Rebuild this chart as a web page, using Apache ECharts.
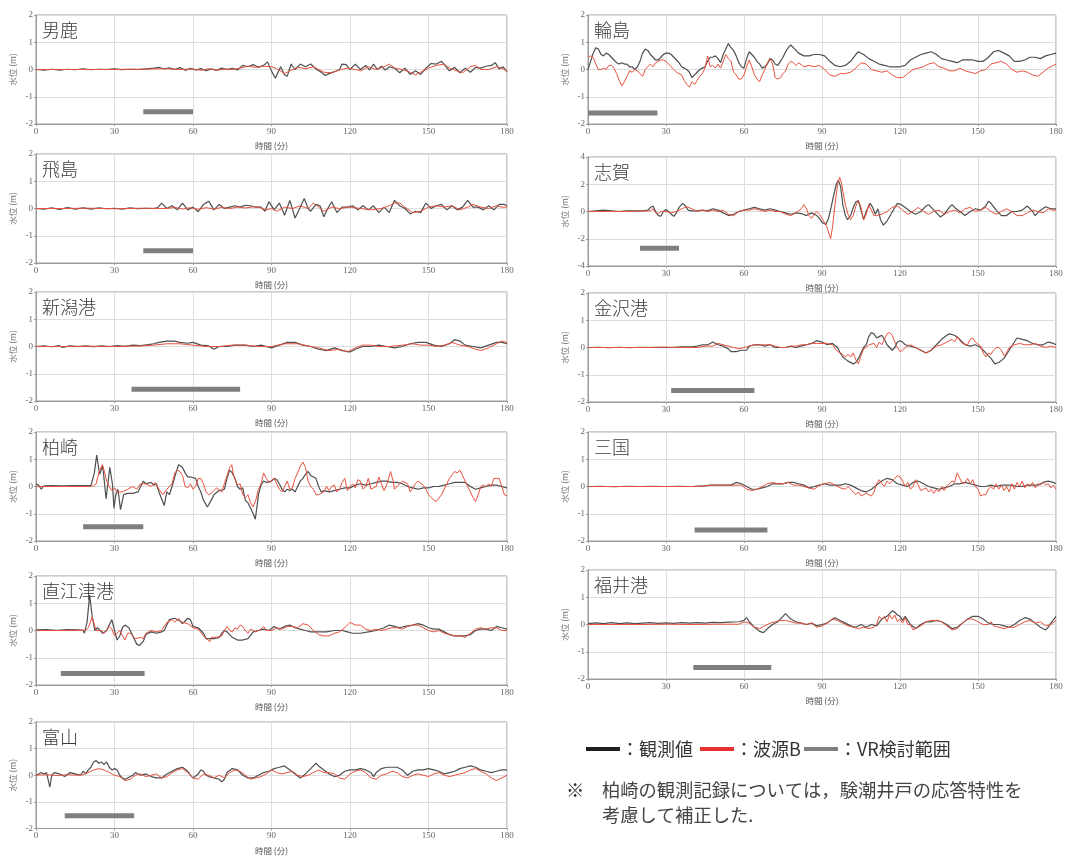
<!DOCTYPE html>
<html><head><meta charset="utf-8">
<script src="https://cdn.jsdelivr.net/npm/echarts@6/dist/echarts.min.js"></script>
<style>html,body{margin:0;padding:0;background:#fff}#c{width:1067px;height:856px}</style>
</head><body><div id="c"></div>
<script>
// ---------- DATA (time in minutes, water level in m; flat lists t,v,t,v,...) ----------
const stations = ['男鹿','飛島','新潟港','柏崎','直江津港','富山','輪島','志賀','金沢港','三国','福井港'];
const xTicks = [0,30,60,90,120,150,180];
const yTicks = [-2,-1,0,1,2];
const yTicksShika = [-4,-2,0,2,4];
// VR検討範囲 (start min, end min, level m)
const vrStart = [41,41,36.5,18,9.5,11,0,20,32,41,40.5];
const vrEnd   = [60,60,78,41,41.5,37.5,26.7,35,64,69,70.5];
const vrLevel = [-1.55,-1.55,-1.57,-1.48,-1.58,-1.52,-1.6,-2.7,-1.58,-1.6,-1.58];

const ogaObs = [0,0,3,-0.02,6,0.01,9,-0.02,12,0.01,15,-0.01,18,0.02,21,-0.01,24,0.01,27,0,30,0.02,33,-0.01,36,0.01,39,0,42,0.02,45,0.05,47,0.08,49,0.02,51,0.06,53,0,55,0.07,57,-0.03,59,0.04,61,-0.02,63,0.03,65,-0.04,67,0.02,69,-0.03,71,0.05,73,0,75,0.04,77,-0.02,79,0.15,81,0.1,83,0.18,85,0.08,87,0.15,88.5,0.28,89.5,0.05,90.5,-0.15,91.5,-0.32,92.5,-0.1,93.5,0.1,95,-0.2,96,-0.25,97.5,0.2,99,0,101,0.2,103,0.1,105,0.2,107,0.02,109,-0.1,110.5,-0.22,112,-0.15,114,-0.08,116,0,117,0.2,118.5,0.18,120,0,122,0.2,124,0,126,0.15,127.5,-0.02,129,0.2,130.5,0,132,0.12,133.5,-0.02,135,0.1,137,0.05,139,-0.12,141,0.05,143,-0.18,145,-0.05,147,-0.18,149,0.05,151,0.22,153,0.2,155,0.3,156.5,0.12,158,-0.05,160,0.08,162,-0.12,164,0.05,166,-0.1,168,0.08,170,0.05,172,0.12,174,0.15,175.5,0.25,177,0.02,178.5,0.1,180,-0.08];
const ogaSim = [0,0,20,0,40,0.01,50,0.03,55,0,60,0.02,63,-0.03,66,0.03,69,-0.03,72,0.02,75,0,78,0.05,81,0.12,84,0.08,87,0.12,90,0.1,92,0.03,95,-0.15,97,-0.05,100,0.08,103,0.03,106,0.1,108,0,110,-0.1,113,-0.12,116,-0.02,119,0.05,122,0,124,-0.05,127,0.1,130,0,133,0.1,135,0.2,137,0.05,140,0,143,-0.1,145,-0.2,147,-0.1,150,0.05,153,0.15,156,0.2,158,0.05,161,-0.05,163,-0.12,166,0.1,168,0.15,170,0,173,0,176,0.1,178,0.05,180,-0.05];

const tobiObs = [0,0,3,-0.02,6,0.02,9,-0.03,12,0.03,15,-0.02,18,0.02,21,-0.02,24,0.02,27,-0.01,30,0.01,33,-0.02,36,0.02,39,-0.01,42,0.01,45,0,46.5,0.03,48,0.2,50,0,52,0.1,54,-0.05,56,0.2,58,-0.05,60,0.05,62,-0.12,64,0.15,66,0.27,68,-0.05,70,0.15,72,0,74,0.05,76,0.1,78,0.05,80,0.12,82,0.1,84,0.05,86,0.05,87.5,-0.1,89,0.25,91,-0.05,93,0.2,95,-0.25,97,0.3,99,-0.35,101,0.05,102.5,0.37,104,0,105,-0.1,107,0.15,108.5,0.1,110,-0.3,111.5,0,113,0.25,115,-0.15,117,0.05,119,0.05,121,0.1,123,-0.05,125,0.1,127,-0.05,129,0.1,131,-0.15,133,0.05,135,-0.15,137,0.3,139,0.1,141,0,143,-0.2,145,-0.1,147,-0.15,149,0.2,151,0,153,0.1,155,0.15,157,-0.05,159,0.1,161,-0.05,163,0.05,165,0.3,167,0.05,169,0.05,171,-0.05,173,0.1,175,-0.05,177,0.15,179,0.15,180,0.1];
const tobiSim = [0,0,10,0,20,0.01,30,-0.01,40,0.01,50,0,53,0.04,56,-0.02,59,0.03,62,-0.03,65,0.03,68,-0.02,71,0.04,74,0,77,0.05,80,0.02,83,0.06,85,0.05,88,-0.05,90,0,92,-0.1,95,0.05,98,0,101,0.1,104,0,106,0.2,108,0.05,110,-0.1,113,0.05,116,0,120,0.05,124,0,128,-0.05,132,0,135,0.1,137,0.2,139,0.2,141,0.05,144,-0.15,147,-0.1,150,0.05,153,0.1,156,0.05,159,0.1,162,-0.05,165,0.05,167,0.15,170,0.05,173,0,176,0.1,178,0.05,180,0.05];

const niiObs = [0,0,3,0.02,6,-0.01,9,0.03,10,-0.03,13,0.02,16,0,19,0.02,22,-0.01,25,0.02,28,0,31,0.03,34,0.01,37,0.05,40,0.03,43,0.07,45,0.1,47,0.15,50,0.2,53,0.2,55,0.15,58,0.12,60,0.15,63,0.05,66,0.02,68,-0.1,70,0,73,0,76,0.05,80,0.05,83,0,86,0.05,90,-0.05,93,0.05,96,0.15,99,0.15,102,0.05,105,0,108,-0.1,111,-0.15,114,-0.05,117,-0.15,120,-0.2,122,-0.1,125,0,128,0,131,0.05,134,0,137,-0.05,140,0,143,0.1,146,0.15,149,0.15,152,0.05,155,0,158,0.1,160,0.25,162,0.2,164,0.05,167,0,170,-0.05,173,0.05,176,0.15,178,0.15,180,0.1];
const niiSim = [0,0,10,0,20,0.01,30,0,40,0.02,45,0.05,50,0.1,55,0.1,60,0.05,65,0,70,0,75,0.05,80,0.05,85,0,90,0,95,0.1,100,0.1,105,0,108,-0.05,112,-0.15,116,-0.1,119,-0.2,122,-0.05,125,0.05,128,0.05,131,0,135,0,140,0.05,144,0.1,147,0.05,150,0.05,153,0,156,0.05,159,0.15,162,0.05,165,0,168,-0.1,170,-0.15,173,-0.05,176,0.1,178,0.2,180,0.15];

const kashiObs = [0,0.1,1,0.05,2,-0.1,3,0.02,6,0.03,10,0.02,14,0.03,18,0.03,21,0.03,22.3,0.5,23.2,1.15,24.3,0.45,25.5,0.75,26.8,-0.45,28.2,0.7,29.2,0.1,29.8,-0.8,30.5,-0.3,31.3,-0.1,32.3,-0.85,33.5,-0.3,35,-0.25,37,-0.25,39,-0.2,40,0,41,0.2,42,0.1,44,0.15,45,0.05,46,0.1,47,-0.2,48,-0.45,49,-0.7,50,-0.2,51,-0.3,52,0,53.5,0.5,54.5,0.8,56,0.7,57,0.5,58,0.35,59,0.35,61,0.3,62,0,63,-0.2,64,-0.5,65.5,-0.75,67,-0.5,68,-0.3,70,-0.15,72,-0.1,73,0.3,74,0.6,75,0.5,76,0.3,77,0,78,-0.1,79,-0.05,80,-0.5,81,-0.6,82,-0.8,83,-1.0,83.8,-1.2,84.5,-0.7,85,-0.3,86,0.05,87,0.2,88,0.15,90,0.2,91,0.3,92,0.25,93,0.1,94,-0.1,95,-0.2,96,-0.1,97,-0.15,98,-0.1,99,-0.2,100,0,101,0.2,102,0.3,103,0.45,104,0.55,105,0.4,106,0.35,107,0.3,108,0,109,-0.2,110,-0.15,112,-0.2,114,-0.15,116,-0.1,118,-0.05,120,-0.05,122,0.05,124,0.1,126,0.05,128,0.1,130,0.15,132,0.2,134,0.2,136,0.15,138,0.15,140,0.1,142,0,144,-0.05,146,-0.1,148,-0.05,150,-0.05,152,0,154,0,156,0.05,158,0.1,160,0.15,162,0.15,164,0.15,166,0,168,-0.1,170,-0.05,172,0,174,0.05,176,0.05,178,0,180,-0.05];
const kashiSim = [0,0,10,0,20,0,22,0.02,23,0.1,24,0.5,25.3,0.8,26,0.6,27,0.2,28,0,29,-0.15,30,-0.05,31,-0.2,33,-0.2,35,-0.1,37,0,38.5,-0.1,40,0.1,42,0.1,44,0,45.5,0.15,47,-0.1,48.5,-0.3,50,-0.1,51,0,52,0.1,53,0.5,54,0.6,55,0.55,56,0.4,57,0,58,-0.05,59,0.1,60,-0.1,61,0,62,0.3,63,0.3,64,0.1,65,-0.2,66,-0.3,67,-0.25,68,-0.15,69,-0.05,71,-0.2,72,0.1,73,0.4,74,0.7,74.8,0.8,75.5,0.4,76,0.3,77,0.05,78,0.1,79,-0.3,80,-0.4,81,-0.3,82,-0.6,83,-0.75,84,-0.5,85,-0.1,86,0.1,87,0.5,88,0.3,89,0.15,90,0.2,91,0.3,92,0.1,93,-0.1,94,-0.2,95,0,96,0.2,97,-0.1,98,-0.05,99,0.3,100,0.5,101,0.75,102,0.9,103,0.7,104,0.2,105,0,106,-0.1,107,-0.3,108,-0.3,110,-0.2,111,0,112,-0.15,113,0,114,0.05,115,-0.2,116,-0.1,117,0.15,118,0.3,119,-0.15,120,0,121,0.1,122,-0.05,123,0.25,124,0.2,125,-0.1,126,0,127,0.3,128,-0.1,130,0,131,0.35,132,0.1,133,-0.15,134,0.05,135.5,0.55,136.5,0.2,137,-0.1,139,0.1,140,0.2,142,0.1,143,-0.2,145,0.1,146,0.2,148,0.05,149,-0.1,150,-0.3,152,-0.5,153,-0.55,155,-0.3,157,0.1,158,0.3,160,0.55,161,0.5,162,0.6,163,0.4,164,0.2,165,0,166,-0.2,167,-0.4,168,-0.55,169,-0.3,170,0,171,0.05,172,0,173,0.1,174,0,175,0.3,176,0.3,177,0.3,178,0,179,-0.3,180,-0.35];

const naoeObs = [0,0.02,4,0.03,8,0.01,12,0.03,16,0.02,18,0.01,18.5,-0.1,19.5,0.3,20.5,1.3,21.5,0.5,22.5,0,23.5,0.1,24.5,0,25.5,-0.1,27,0,28,0.2,29,0.4,30,0,31,-0.35,32,-0.2,33,0.1,34,0.2,35.5,0.1,37,-0.2,38.5,-0.5,39.5,-0.55,41,-0.4,42,-0.15,44,-0.05,46,-0.1,48,-0.05,49,0,51,0.4,53,0.45,55,0.35,56,0.25,57,0.35,58,0.45,59,0.4,60,0.15,62,0.1,64,-0.1,65,-0.3,66,-0.3,68,-0.3,70,-0.25,71,-0.1,72,0,73,-0.05,75,-0.25,77,-0.35,79,-0.35,81,-0.3,83,-0.05,85,0,87,0.05,89,0,91,0.15,93,0.05,95,0.15,97,0.2,99,0.1,101,0.05,103,0,105,-0.05,108,-0.05,111,-0.05,114,0,117,0,119,-0.05,121,-0.1,124,-0.1,127,-0.05,130,0,133,0.1,135,0.2,137,0.15,139,0.1,141,0.15,144,0.2,146,0.25,148,0.2,150,0.1,152,0.05,154,0.05,156,-0.05,158,-0.15,160,-0.2,162,-0.2,164,-0.2,166,-0.15,168,0,170,0.05,172,0.05,174,0,176,0.15,178,0.1,180,0.05];
const naoeSim = [0,0,10,0,19,0.01,20,0.1,21.5,0.5,22.5,0.15,23,0,25,0,26,-0.1,27,0,28,0.15,29,0.05,30,-0.2,31,-0.1,32,0,34,-0.35,35,-0.1,36,-0.1,37,-0.2,38,-0.3,40,-0.25,41,-0.3,42,-0.1,44,0,46,-0.05,48,0,50,0.3,52,0.4,53,0.3,54.5,0.45,55,0.35,56,0.3,58,0.25,60,0.1,62,0.05,64,-0.2,65,-0.3,66.5,-0.4,67,-0.25,69,-0.25,71,-0.2,72,0,73,0.15,74,0,75,-0.05,76,0.1,77,0.05,78,0.2,79,0.15,80,0,81,-0.1,82,0.05,84,-0.05,86,0.05,87,0.15,88,0,90,0,92,0.1,94,0.05,96,0.15,98,0.15,100,0.1,102,0.25,104,0.2,106,0,108,-0.15,110,-0.2,112,-0.2,114,-0.1,116,-0.05,118,0.1,120,0.3,122,0.2,124,0.2,126,0.05,128,0,130,0.05,132,0,134,0.05,136,0.1,138,0.1,140,0.05,142,0.15,144,0.2,146,0.2,148,0.1,150,0,152,-0.05,154,0,156,-0.1,158,-0.15,160,-0.2,162,-0.2,164,-0.25,166,-0.1,168,0.05,170,0.1,172,0.05,174,0.1,176,0.1,178,0,180,0];

const toyaObs = [0,0,1,0.05,2,0.1,3,0.05,4,0.1,5.3,-0.45,6,0,7,0.1,9,0.05,10,0,11,-0.05,13,0.1,15,0.05,17,0,18,0.15,19,0.05,20,0.2,21,0.3,22,0.5,23,0.55,24,0.45,25,0.5,26,0.4,27,0.5,28,0.3,29,0.2,30,0.25,31,0.2,32,0,33,-0.1,34,-0.15,35,-0.1,36,-0.05,37,0,38,0.1,40,0,42,0.05,44,-0.05,46,-0.1,48,-0.1,50,0.05,52,0.15,54,0.25,56,0.3,58,0.15,59,0,60,-0.1,62,0.05,63,0.2,64,0.15,65,0,66,-0.05,68,-0.1,70,-0.15,71,-0.25,72,-0.15,73,0.1,75,0.25,77,0.2,79,0,81,-0.1,83,-0.1,85,0,87,0.1,89,0.15,91,0.25,93,0.3,95,0.35,97,0.2,99,0.05,101,-0.1,103,0.05,105,0.25,106,0.35,107,0.45,108,0.35,110,0.2,112,0.05,114,-0.05,116,0,118,0.15,120,0.2,122,0.2,124,0.25,126,0.2,128,0.1,129,-0.05,130,0.1,132,0.25,134,0.3,136,0.3,138,0.3,140,0.2,142,0,144,0.15,146,0.2,148,0.2,150,0.25,152,0.2,154,0.15,156,0.05,158,0.1,160,0.15,162,0.25,164,0.3,166,0.35,168,0.3,170,0.2,172,0.15,174,0.1,176,0.15,178,0.2,180,0.2];
const toyaSim = [0,0,4,0.02,8,-0.01,12,0.02,16,0,18,0.02,20,0.1,22,0.2,24,0.25,26,0.2,28,0.1,30,0,32,-0.05,34,-0.2,36,-0.15,38,0,40,0.05,42,-0.05,44,0,46,0.05,48,-0.1,50,-0.05,52,0.1,54,0.2,56,0.25,58,0.1,60,-0.1,62,-0.15,64,0.05,66,0,68,-0.1,70,0,72,-0.1,74,0.1,76,0.2,78,0.15,80,0,82,-0.15,84,-0.1,86,-0.05,88,0.05,90,0.2,92,0.1,94,0.05,96,0.1,98,0.15,100,0,102,-0.05,104,0,106,0.1,108,0.2,110,0.1,112,0.1,114,0.05,116,-0.1,118,-0.15,120,0.05,122,0.15,124,0.2,126,0.1,128,-0.1,130,-0.15,132,0,134,0.05,136,0.15,138,0.1,140,-0.05,142,-0.1,144,0,146,0.05,148,0,150,-0.05,152,0.05,154,0.1,156,0,158,-0.05,160,0,162,0.05,164,0.1,166,0.2,168,0.25,170,0.15,172,0.05,174,-0.1,176,-0.2,178,-0.1,180,0];

const wajiObs = [0,0,1,0.3,2,0.6,3,0.8,4,0.75,5,0.55,6,0.5,7,0.6,8,0.55,9,0.45,10,0.35,11,0.25,12,0.2,13,0.25,14,0.2,15,0.2,16,0.1,17,0.1,18,0,19,0.1,20,0.3,21,0.6,22,0.75,23,0.7,24,0.55,25,0.45,26,0.35,27,0.35,28,0.45,29,0.55,30,0.6,31,0.6,32,0.55,33,0.45,34,0.35,35,0.25,36,0.1,37,0.05,38,0,39,-0.1,40,-0.3,41,-0.2,42,-0.1,43,0,44,0.05,45,0.1,46,0.3,47,0.45,48,0.45,49,0.5,50,0.4,51,0.25,52,0.55,53,0.75,54,0.95,55,0.8,56,0.7,57,0.5,58,0.25,59,0.1,60,0.05,61,0.4,62,0.65,63,0.55,64,0.45,65,0.3,66,0.2,67,0.05,68,0.1,69,0.2,70,0.4,71,0.35,72,0.2,73,0.15,74,0.3,75,0.45,76,0.65,77,0.8,78,0.9,79,0.8,80,0.7,81,0.6,83,0.5,85,0.5,87,0.55,89,0.55,91,0.5,93,0.3,95,0.15,97,0.1,99,0.15,101,0.3,103,0.55,104,0.65,106,0.55,108,0.4,110,0.3,112,0.2,114,0.15,116,0.1,118,0.1,120,0.1,122,0.15,124,0.35,126,0.45,128,0.55,130,0.6,132,0.65,134,0.55,136,0.4,138,0.35,140,0.3,142,0.25,144,0.35,146,0.35,148,0.35,150,0.3,152,0.3,154,0.45,156,0.65,158,0.7,160,0.6,162,0.5,164,0.3,166,0.3,168,0.35,170,0.45,172,0.45,174,0.4,176,0.5,178,0.55,180,0.6];
const wajiSim = [0,0.45,1,0.5,2,0.45,3,0.2,4,0,5,0,6,0.05,7,0,8,0.15,9,0.15,10,0.05,11,-0.15,12,-0.4,13,-0.6,14,-0.45,15,-0.25,16,-0.05,17,-0.1,18,0,19,-0.05,20,-0.15,21,-0.25,22,0,23,0.1,24,0.2,25,0.1,26,0.25,27,0.3,28,0.35,29,0.35,30,0.3,31,0.2,32,0.1,33,0,34,-0.1,35,-0.15,36,-0.2,37,-0.4,38,-0.55,39,-0.65,40,-0.45,41,-0.55,42,-0.4,43,-0.25,44,-0.15,45,0.05,46,0.5,47,0.1,48,0.15,49,0.05,50,0.2,51,0.05,52,0.3,53,0.55,54,0.4,55,0.3,56,-0.1,57,-0.2,58,-0.35,59,-0.35,60,-0.2,61,0.1,62,0.35,63,0.1,64,-0.2,65,-0.35,66,-0.45,67,-0.2,68,0,69,0.25,70,0.4,71,0.2,72,-0.3,73,-0.35,74,-0.3,75,-0.15,76,-0.05,77,0.2,78,0.3,79,0.25,80,0.15,81,0.25,83,0.1,85,0.15,87,0.1,89,0.15,91,0,93,-0.2,95,-0.25,97,-0.15,99,-0.15,101,-0.1,103,0.05,105,0.25,107,0.2,109,0,111,-0.05,113,-0.1,115,-0.05,117,-0.2,119,-0.3,121,-0.3,123,-0.15,125,0,127,0.05,129,0.1,131,0.2,133,0.25,135,0.1,137,0.05,139,-0.05,141,-0.05,143,0.05,145,-0.05,147,-0.1,149,-0.15,151,-0.05,153,0,155,0.2,157,0.25,159,0.3,161,0.2,163,0,165,-0.1,167,-0.05,169,-0.1,171,-0.2,173,-0.25,175,-0.1,177,0.05,179,0.15,180,0.2];

const shikaObs = [0,0,3,0.05,6,0.1,9,0.05,12,0,15,0.05,18,0.05,21,0.05,23,0.1,24,0.3,25,0.4,26,0,27,-0.3,28,-0.35,29,0,30,0.15,31,0,32,-0.2,33,-0.35,34,-0.1,35,0.3,36.4,0.6,37.5,0.4,38.5,0.1,40,0.05,42,0.05,44,0.1,46,0.05,48,0.2,50,0.1,52,-0.1,54,-0.3,56,-0.2,58,0,60,0.1,62,0.2,64,0.3,66,0.2,68,0.1,70,0.2,72,0.1,74,0,76,-0.1,78,-0.2,80,-0.1,82,-0.15,84,-0.3,86,-0.1,88,-0.3,89,-0.5,90,-0.8,91.5,-0.95,92.5,-0.5,93.5,0.3,94.5,1.2,95.5,2.0,96.3,2.3,97.2,1.8,98,0.5,99,-0.3,99.8,-0.6,101,-0.3,102,0.3,103,0.7,104,0.8,105,0.1,106,-0.6,107,0,108.5,0.6,109.5,0.3,110.5,-0.2,111.5,0.2,112.5,-0.6,113.6,-1.0,115,-0.7,116.5,-0.2,118,0.3,119,0.6,120.5,0.5,122,0.3,124,0,126,-0.2,128,0,130,0.4,131,0.5,133,0.1,135.5,-0.4,137,-0.2,139,0.3,140,0.5,141,0.3,143,0,145,-0.3,147,0,149,0.2,151,0.1,153,0.4,154,0.75,155,0.6,157,0.1,159,-0.3,161,-0.3,163,0,165,0,167,0.1,169,0.4,171,0,172,-0.3,174,0.1,176,0.35,178,0.2,180,0.2];
const shikaSim = [0,0,10,0,20,0.02,24,0.05,25,0.2,26,-0.1,27,-0.15,28,0,30,0,32,-0.1,34,0,36,0.2,38,0.35,40,0.2,42,0,44,0.1,46,0,48,0.1,50,0,52,0.1,54,-0.2,56,-0.3,58,0,60,0.1,62,0.1,64,0.2,66,0.1,68,0,70,0.1,72,0,74,0,76,-0.2,78,-0.3,80,-0.1,82,0.2,83,0.5,84,0.2,85,-0.3,86,-0.5,87,-0.2,88,0,89,-0.2,90,-0.5,91,-0.8,92,-1.2,93.3,-2.0,94,-1.2,95,0.5,96,2.0,96.8,2.5,97.5,2.1,98,1.5,99,0.5,100,-0.2,101,-0.6,102,-0.3,103,0.4,104,0.8,105,0.3,106,-0.6,107,-0.2,108,0.5,109,0.1,110,-0.3,111,-0.3,113,-0.2,115,0,117,0.3,119,0.4,121,0.1,123,-0.2,125,0,127,0.3,129,0,131,-0.2,133,0,135,0.1,137,-0.2,139,0,141,0.1,143,-0.1,145,0.2,147,0.3,149,0,151,0.1,153,0.3,155,0,157,-0.2,159,0,161,0.2,163,0,165,-0.3,167,-0.3,169,-0.1,171,0.1,173,0,175,-0.1,177,0.2,179,0.1,180,0.1];

const kanaObs = [0,0,4,0.01,8,-0.01,12,0.01,16,-0.01,20,0.01,24,0,28,0.01,32,0,36,0.02,40,0.02,42,0.05,44,0.1,46,0.1,47,0.15,48,0.2,50,0.1,52,0.05,54,-0.05,55,-0.15,57,-0.15,59,-0.1,61,-0.1,62,0.05,64,0.1,66,0.1,68,0.05,70,0.1,72,0,74,0,76,0,78,0.05,80,0,82,0.05,84,0.1,86,0.15,88,0.25,90,0.2,92,0.1,94,0.15,96,0,97,-0.2,98,-0.35,100,-0.5,102,-0.6,103,-0.55,104,-0.4,105,-0.2,106,0,107,0.1,108,0.4,109,0.55,110,0.5,111,0.35,112,0.4,113,0.45,114,0.3,115,0.1,116,0,117,-0.1,118,0,119,0.2,120,0.25,121,0.2,122,0.1,124,0.05,126,0,128,-0.1,130,-0.2,132,-0.1,134,0.1,136,0.3,138,0.45,139,0.5,141,0.45,143,0.3,145,0.1,147,0.05,149,0.1,151,0,153,-0.2,155,-0.4,156.5,-0.6,158,-0.55,160,-0.4,162,-0.1,164,0.2,165,0.35,167,0.3,169,0.25,171,0.15,173,0.1,175,0.1,177,0.2,179,0.15,180,0.1];
const kanaSim = [0,0,10,0,20,0,30,0.01,40,0,42,0,45,0.05,48,0.05,50,0.15,52,0.1,54,0.05,56,0,58,-0.05,60,0,62,0.05,64,0.1,66,0.1,68,0.1,70,0.1,72,0.05,74,0,76,0,78,0.05,80,0.05,82,0.1,84,0.1,86,0.15,88,0.15,90,0.15,92,0.15,94,0.1,96,-0.15,98,-0.25,99,-0.35,100,-0.25,101,-0.35,102,-0.2,103,-0.45,104,-0.6,105,-0.3,106,-0.05,107,0,108,0.1,110,0.15,111,0,112,0.2,113,0.1,114,0.3,115,0.5,116,0.55,117,0.45,118,0.2,119,0,120,-0.15,121,-0.1,122,0,124,0.1,126,0,128,-0.1,130,-0.2,132,-0.1,134,0.05,136,0.1,138,0.2,140,0.3,141,0.2,142,0.4,143,0.25,144,0.15,146,0.1,147,0.3,148,0.35,149,0.2,151,0.05,152,-0.2,153,-0.35,154,-0.2,155,-0.25,156,-0.1,157,0,158,0,159,-0.1,160,-0.3,161,-0.2,162,0,164,0.1,166,0.15,168,0.1,170,0.1,172,0.15,174,0.05,176,0,178,0.05,180,0];

const mikuObs = [0,0,5,0.01,10,-0.01,15,0.01,20,0,25,0.01,30,0,35,0.01,40,0,45,0.02,47,0.05,50,0.05,52,0.05,55,0.05,57,0.15,59,0.1,61,0,63,-0.1,65,-0.1,67,-0.05,69,0,71,0.1,73,0.1,75,0.1,77,0.15,79,0.15,81,0.1,83,0.05,85,-0.05,87,0,89,0.05,91,0.1,93,0.05,95,0.05,97,0.05,99,0.1,101,0.05,103,-0.05,105,-0.15,107,-0.2,109,-0.1,111,0.05,113,0.2,115,0.3,117,0.25,119,0.1,121,0.05,123,0,125,0.15,127,0.2,129,0.1,131,0,133,-0.05,135,-0.1,137,-0.05,139,0,141,0.1,143,0.1,145,0.15,147,0.1,149,0.05,151,0,153,0,155,0.05,157,0,159,0.05,161,0.05,163,0.05,165,0,167,0,169,0.05,171,0.05,173,0.05,175,0.15,177,0.2,179,0.15,180,0.1];
const mikuSim = [0,0,10,0,20,0,30,0,40,0,45,0.02,48,0.05,52,0.05,55,0.05,57,0.05,59,0.05,61,-0.1,63,-0.15,65,-0.1,67,0,69,0.1,71,0.15,73,0.1,75,0.1,77,0.15,79,0.05,81,0.05,83,0,85,-0.05,87,-0.1,89,0.05,91,0.1,93,0.15,95,0.05,97,-0.05,99,-0.1,100,0,101,-0.1,103,-0.3,104,-0.2,105,-0.35,106,-0.3,107,-0.25,109,-0.35,110,-0.2,111,0.1,112,0.25,113,0.1,114,0,115,0.2,116,0.1,117,0.2,118,0.3,119,0.4,120,0.35,121,0.2,122,0,123,0.15,124,-0.1,125,0,126,0.25,127,0.05,128,-0.15,129,-0.1,130,-0.05,131,-0.2,132,-0.1,133,-0.25,134,-0.1,135,-0.2,136,0,137,-0.15,138,0,139,0.1,140,0.2,141,0.15,142,0.5,143,0.3,144,0.1,145,0.15,146,0.3,147,0.1,148,0.25,149,0,150,-0.1,151,-0.35,152,-0.3,153,-0.3,154,-0.1,155,0,156,-0.1,157,0.1,158,-0.1,159,0.05,160,-0.15,161,0,162,-0.2,163,0.1,164,-0.1,165,0.15,166,0,167,0.2,168,-0.05,169,0.1,170,0,171,0.15,172,-0.05,173,0.1,174,0.05,175,0.15,176,0.05,177,0.1,178,-0.05,179,0.05,180,-0.1];

const fukuObs = [0,0.03,3,0.06,6,0.03,9,0.07,12,0.03,15,0.06,18,0.03,21,0.05,24,0.07,27,0.04,30,0.06,33,0.04,36,0.07,39,0.05,42,0.07,45,0.05,48,0.08,51,0.07,54,0.09,58,0.1,60,0.15,61,0.25,62,0.1,64,-0.1,66,-0.25,67.5,-0.3,69,-0.15,71,0,73,0.1,75,0.3,76,0.4,77,0.3,78,0.2,80,0.1,82,0.05,84,0,86,0.05,88,-0.05,90,0,92,0.05,94,0.2,95,0.25,97,0.15,99,0.05,101,-0.05,103,-0.1,105,0,107,-0.1,109,0,111,-0.05,113,0.2,115,0.3,117,0.5,118,0.45,119,0.35,120,0.3,121,0.15,122,0.3,124,0,126,-0.15,128,0,130,0.1,132,0.1,134,0.15,136,0.1,138,0,140,-0.15,142,-0.1,144,0.05,146,0.2,148,0.3,150,0.3,152,0.2,154,0.05,156,0,158,0,160,-0.05,162,-0.1,164,0,166,0.15,168,0.25,170,0.2,172,0.05,174,-0.1,176,-0.2,177,-0.1,178,0.05,180,0.3];
const fukuSim = [0,0,10,0,20,0,30,0.01,40,0,50,0.01,58,0.01,60,0.1,62,0.05,64,-0.1,66,-0.15,68,-0.05,70,0.05,72,0.1,74,0.15,76,0.15,78,0.1,80,0.05,82,0.05,84,0,86,0.05,88,-0.1,90,-0.05,92,0.05,94,0.2,96,0.15,98,0.05,100,-0.05,102,-0.1,104,-0.15,106,-0.1,108,-0.15,110,-0.1,111,0,112,0.3,113,0.2,114,0.3,115,0.1,116,0.35,117,0.2,118,0.35,119,0.1,120,0.2,121,0.05,122,0.25,123,0,124,0,125,-0.2,126,-0.15,128,-0.05,130,0.1,132,0.15,134,0.15,136,0.1,138,-0.05,140,-0.2,142,-0.15,144,0.05,146,0.2,148,0.2,150,0.1,152,0,154,0,155,0.1,156,-0.05,158,-0.1,160,-0.15,162,-0.1,164,-0.1,166,0,168,0.1,170,0.15,172,0.05,174,0.1,176,-0.05,178,0,180,0.15];

const obsSeries = [ogaObs,tobiObs,niiObs,kashiObs,naoeObs,toyaObs,wajiObs,shikaObs,kanaObs,mikuObs,fukuObs];
const simSeries = [ogaSim,tobiSim,niiSim,kashiSim,naoeSim,toyaSim,wajiSim,shikaSim,kanaSim,mikuSim,fukuSim];

// ---------- LAYOUT / STYLE ----------
function pairs(flat){const o=[];for(let i=0;i<flat.length;i+=2)o.push([flat[i],flat[i+1]]);return o;}
const PH = 109;
const layout = [
  {left:36,top:15,width:471},{left:36,top:154,width:471},{left:36,top:292,width:471},
  {left:36,top:432,width:471},{left:36,top:576,width:471},{left:36,top:722,width:471},
  {left:588,top:15,width:468},{left:588,top:157,width:468},{left:588,top:293,width:468},
  {left:588,top:432,width:468},{left:588,top:570,width:468}
];
const AX = '#9a9a9a', SPL = '#dedede', LBL = '#666';
const serif = '"Liberation Serif","DejaVu Serif",serif';
const jp = '"Noto Sans CJK JP","Noto Sans",sans-serif';

const grids=[], xAxes=[], yAxes=[], titles=[], series=[];
stations.forEach((name,i)=>{
  const L = layout[i];
  const ticks = (i===7) ? yTicksShika : yTicks;
  grids.push({left:L.left, top:L.top, width:L.width, height:PH, show:true, borderColor:AX, borderWidth:1, backgroundColor:'#fff'});
  xAxes.push({type:'value', gridIndex:i, min:xTicks[0], max:xTicks[xTicks.length-1], interval:xTicks[1]-xTicks[0],
    axisLine:{show:true, onZero:false, lineStyle:{color:AX}}, axisTick:{show:true, length:2, lineStyle:{color:AX}},
    axisLabel:{fontFamily:serif, fontSize:9, color:LBL, margin:3},
    splitLine:{show:true, lineStyle:{color:SPL, width:1}},
    name:'時間 (分)', nameLocation:'middle', nameGap:18, nameTextStyle:{fontFamily:jp, fontSize:8.5, color:'#555'}});
  yAxes.push({type:'value', gridIndex:i, min:ticks[0], max:ticks[ticks.length-1], interval:ticks[1]-ticks[0],
    axisLine:{show:true, onZero:false, lineStyle:{color:AX}}, axisTick:{show:true, length:2, lineStyle:{color:AX}},
    axisLabel:{fontFamily:serif, fontSize:9, color:LBL, margin:3},
    splitLine:{show:true, lineStyle:{color:SPL, width:1}},
    name:'水位 (m)', nameLocation:'middle', nameGap:19, nameTextStyle:{fontFamily:jp, fontSize:8.5, color:'#777'}});
  titles.push({text:name, left:L.left+6, top:L.top+6, padding:0,
    textStyle:{fontFamily:jp, fontSize:18, fontWeight:300, color:'#3a3a3a'}});
  series.push({type:'line', xAxisIndex:i, yAxisIndex:i, data:pairs(obsSeries[i]), symbol:'none', silent:true,
    lineStyle:{color:'#4f4f4f', width:1.2}, z:3});
  series.push({type:'line', xAxisIndex:i, yAxisIndex:i, data:pairs(simSeries[i]), symbol:'none', silent:true,
    lineStyle:{color:'#e8503f', width:1}, z:4});
  series.push({type:'line', xAxisIndex:i, yAxisIndex:i, data:[[vrStart[i],vrLevel[i]],[vrEnd[i],vrLevel[i]]], symbol:'none', silent:true,
    lineStyle:{color:'#7f7f7f', width:5, cap:'butt'}, z:2});
});

const legendFont = '18px ' + jp;
const noteFont = '18.3px ' + jp;
const graphic = [
  {type:'line', shape:{x1:586,y1:749,x2:620,y2:749}, style:{stroke:'#231f20', lineWidth:4}},
  {type:'text', x:621, y:749, style:{text:'：観測値', font:legendFont, fill:'#333', verticalAlign:'middle'}},
  {type:'line', shape:{x1:700,y1:749,x2:734,y2:749}, style:{stroke:'#e8312f', lineWidth:4}},
  {type:'text', x:735, y:749, style:{text:'：波源B', font:legendFont, fill:'#333', verticalAlign:'middle'}},
  {type:'line', shape:{x1:804,y1:749,x2:838,y2:749}, style:{stroke:'#808080', lineWidth:4}},
  {type:'text', x:839, y:749, style:{text:'：VR検討範囲', font:legendFont, fill:'#333', verticalAlign:'middle'}},
  {type:'text', x:566, y:790, style:{text:'※', font:noteFont, fill:'#333', verticalAlign:'middle'}},
  {type:'text', x:602, y:790, style:{text:'柏崎の観測記録については，験潮井戸の応答特性を', font:noteFont, fill:'#444', verticalAlign:'middle'}},
  {type:'text', x:602, y:815, style:{text:'考慮して補正した.', font:noteFont, fill:'#444', verticalAlign:'middle'}}
];

const chart = echarts.init(document.getElementById('c'), null, {renderer:'canvas'});
chart.setOption({
  animation:false, backgroundColor:'#fff',
  title:titles, grid:grids, xAxis:xAxes, yAxis:yAxes, series:series, graphic:graphic
});
</script></body></html>
